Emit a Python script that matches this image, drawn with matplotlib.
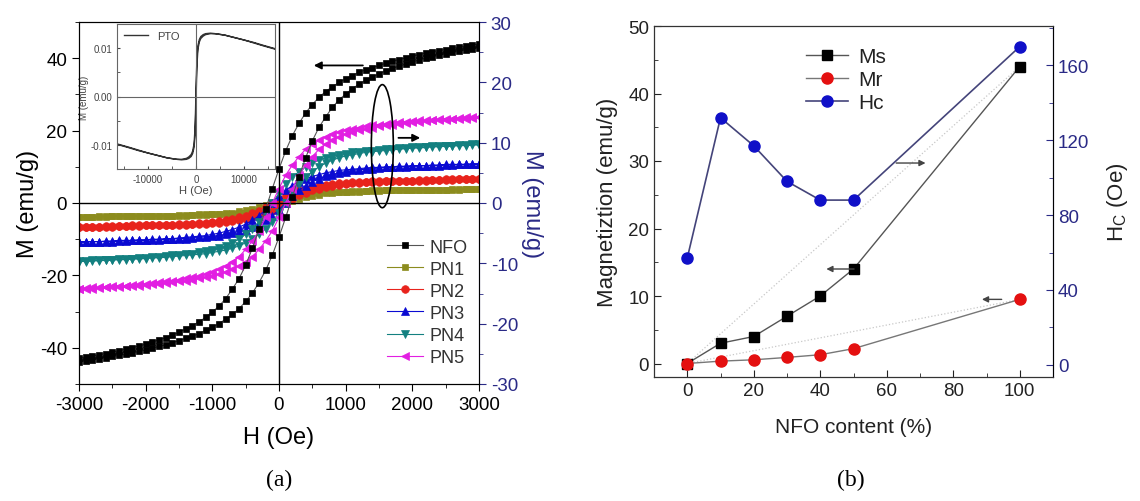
import matplotlib
matplotlib.use("Agg")
import matplotlib.pyplot as plt
from matplotlib.patches import Ellipse
from matplotlib.ticker import MultipleLocator, FormatStrFormatter

plt.rcParams["font.family"] = ["Liberation Sans", "DejaVu Sans"]
plt.rcParams["axes.unicode_minus"] = False
plt.rcParams["mathtext.fontset"] = "custom"
plt.rcParams["mathtext.rm"] = "Liberation Sans"

NAVY = "#2a2a86"

# ---- (a) M-H loops: descending branch, M at each field step (Oe) ----
H_FIELD = list(range(-3000, 3001, 100))

NFO_DESC = [-42.9, -42.6, -42.3, -41.9, -41.6, -41.2, -40.8, -40.4, -40.0, -39.5,
            -39.0, -38.4, -37.8, -37.2, -36.5, -35.7, -34.8, -33.9, -32.8, -31.6,
            -30.1, -28.5, -26.4, -23.8, -20.9, -17.2, -12.5, -7.3, -1.7, 4.0,
            9.4, 14.4, 18.6, 22.0, 24.9, 27.2, 29.2, 30.8, 32.1, 33.3,
            34.3, 35.2, 36.1, 36.8, 37.4, 38.0, 38.6, 39.2, 39.6, 40.1,
            40.6, 41.0, 41.4, 41.8, 42.1, 42.4, 42.7, 43.0, 43.3, 43.6,
            43.9]
PN1_DESC = [-2.3, -2.3, -2.3, -2.2, -2.2, -2.2, -2.2, -2.2, -2.2, -2.2,
            -2.2, -2.1, -2.1, -2.1, -2.1, -2.0, -2.0, -2.0, -1.9, -1.9,
            -1.8, -1.8, -1.7, -1.6, -1.4, -1.2, -1.0, -0.7, -0.4, 0.0,
            0.4, 0.7, 1.0, 1.2, 1.4, 1.6, 1.7, 1.8, 1.8, 1.9,
            1.9, 2.0, 2.0, 2.0, 2.1, 2.1, 2.1, 2.1, 2.2, 2.2,
            2.2, 2.2, 2.2, 2.2, 2.2, 2.2, 2.3, 2.3, 2.3, 2.3,
            2.3]
PN2_DESC = [-3.9, -3.9, -3.9, -3.9, -3.8, -3.8, -3.8, -3.8, -3.7, -3.7,
            -3.7, -3.7, -3.6, -3.6, -3.6, -3.5, -3.5, -3.4, -3.3, -3.3,
            -3.2, -3.0, -2.9, -2.7, -2.4, -2.1, -1.7, -1.3, -0.7, 0.0,
            0.7, 1.3, 1.7, 2.1, 2.4, 2.7, 2.9, 3.0, 3.2, 3.3,
            3.3, 3.4, 3.5, 3.5, 3.6, 3.6, 3.6, 3.7, 3.7, 3.7,
            3.7, 3.8, 3.8, 3.8, 3.8, 3.9, 3.9, 3.9, 3.9, 3.9,
            3.95]
PN3_DESC = [-6.4, -6.4, -6.4, -6.4, -6.3, -6.3, -6.2, -6.2, -6.2, -6.1,
            -6.1, -6.0, -6.0, -5.9, -5.9, -5.8, -5.7, -5.6, -5.5, -5.4,
            -5.2, -5.0, -4.7, -4.4, -4.0, -3.5, -2.9, -2.1, -1.1, 0.0,
            1.1, 2.1, 2.9, 3.5, 4.0, 4.4, 4.7, 5.0, 5.2, 5.4,
            5.5, 5.6, 5.7, 5.8, 5.9, 5.9, 6.0, 6.0, 6.1, 6.1,
            6.2, 6.2, 6.2, 6.3, 6.3, 6.4, 6.4, 6.4, 6.4, 6.5,
            6.5]
PN4_DESC = [-9.6, -9.6, -9.5, -9.5, -9.4, -9.4, -9.3, -9.3, -9.2, -9.1,
            -9.1, -9.0, -8.9, -8.8, -8.7, -8.6, -8.5, -8.4, -8.2, -8.0,
            -7.8, -7.5, -7.1, -6.6, -6.0, -5.2, -4.3, -3.1, -1.6, 0.0,
            1.6, 3.1, 4.3, 5.2, 6.0, 6.6, 7.1, 7.5, 7.8, 8.0,
            8.2, 8.4, 8.5, 8.6, 8.7, 8.8, 8.9, 9.0, 9.1, 9.1,
            9.2, 9.3, 9.3, 9.4, 9.4, 9.5, 9.5, 9.6, 9.6, 9.7,
            9.7]
PN5_DESC = [-14.2, -14.1, -14.0, -14.0, -13.9, -13.8, -13.7, -13.7, -13.6, -13.5,
            -13.4, -13.3, -13.1, -13.0, -12.9, -12.7, -12.5, -12.3, -12.1, -11.8,
            -11.4, -11.0, -10.4, -9.7, -8.9, -7.7, -6.3, -4.6, -2.4, 0.0,
            2.4, 4.6, 6.3, 7.7, 8.9, 9.7, 10.4, 11.0, 11.4, 11.8,
            12.1, 12.3, 12.5, 12.7, 12.9, 13.0, 13.1, 13.3, 13.4, 13.5,
            13.6, 13.7, 13.7, 13.8, 13.9, 14.0, 14.0, 14.1, 14.2, 14.2,
            14.3]

# inset: PTO loop, descending branch
PTO_H = [16500, 14000, 12000, 10000, 8000, 6000, 4000, 3000, 2000, 1500,
         1000, 700, 400, 200, 100, 0, -100, -200, -400, -700,
         -1000, -1500, -2000, -3000, -4000, -6000, -8000, -10000, -12000, -14000,
         -16500]
PTO_M = [0.0099, 0.0106, 0.0112, 0.0117, 0.0122, 0.0127, 0.0130, 0.0131, 0.0130, 0.0128,
         0.0124, 0.0118, 0.0105, 0.0080, 0.0050, 0.0012, -0.0030, -0.0065, -0.0098, -0.0113,
         -0.0120, -0.0125, -0.0128, -0.0130, -0.0130, -0.0127, -0.0122, -0.0117, -0.0111, -0.0105,
         -0.0098]

# ---- (b) vs NFO content ----
NFO_CONTENT = [0, 10, 20, 30, 40, 50, 100]
MS = [0.0, 3.0, 4.0, 7.0, 10.0, 14.0, 44.0]
MR = [0.0, 0.35, 0.55, 0.9, 1.3, 2.2, 9.5]
HC = [57, 132, 117, 98, 88, 88, 170]


def full_loop(h, m_desc):
    """Descending branch (+H -> -H) followed by the return branch,
    taken as the point reflection of the measured one."""
    h_d = h[::-1]
    m_d = m_desc[::-1]
    return h_d + [-x for x in h_d], m_d + [-y for y in m_d]


fig = plt.figure(figsize=(11.4, 5.02), dpi=100)

# ================= panel (a) =================
ax = fig.add_axes([79 / 1140, 1 - 385 / 502, 400 / 1140, 362 / 502])
axr = ax.twinx()
ax.set_zorder(axr.get_zorder() + 1)
ax.patch.set_visible(False)

series = [
    ("NFO", NFO_DESC, "s", "#000000", "#555555", ax, 5.0),
    ("PN1", PN1_DESC, "s", "#8c8c1e", "#8c8c1e", axr, 5.0),
    ("PN2", PN2_DESC, "o", "#e8231c", "#e8231c", axr, 5.5),
    ("PN3", PN3_DESC, "^", "#0a0ad2", "#0a0ad2", axr, 6.0),
    ("PN4", PN4_DESC, "v", "#138080", "#138080", axr, 6.0),
    ("PN5", PN5_DESC, "<", "#e21ee2", "#e21ee2", axr, 6.0),
]
handles = []
for name, m_desc, mk, mcol, lcol, target, ms in series:
    hh, mm = full_loop(H_FIELD, m_desc)
    ln, = target.plot(hh, mm, color=lcol, lw=0.8, marker=mk, ms=ms,
                      mfc=mcol, mec=mcol, mew=0.5, label=name)
    handles.append(ln)

ax.set_xlim(-3000, 3000)
ax.set_ylim(-50, 50)
axr.set_ylim(-30, 30)
ax.axhline(0, color="k", lw=1.0, zorder=0)
ax.axvline(0, color="k", lw=1.0, zorder=0)

ax.xaxis.set_major_locator(MultipleLocator(1000))
ax.xaxis.set_minor_locator(MultipleLocator(500))
ax.yaxis.set_major_locator(MultipleLocator(20))
ax.yaxis.set_minor_locator(MultipleLocator(10))
axr.yaxis.set_major_locator(MultipleLocator(10))
axr.yaxis.set_minor_locator(MultipleLocator(5))
ax.tick_params(which="both", direction="out", labelsize=13.5, top=False)
ax.tick_params(which="major", length=5)
ax.tick_params(which="minor", length=3)
axr.tick_params(which="both", direction="out", labelsize=13.5, colors=NAVY)
axr.tick_params(which="major", length=5)
axr.tick_params(which="minor", length=3)
axr.spines["right"].set_color(NAVY)

ax.set_xlabel("H (Oe)", fontsize=17)
ax.xaxis.set_label_coords(0.5, -0.115)
ax.set_ylabel("M (emu/g)", fontsize=17)
ax.yaxis.set_label_coords(-0.10, 0.5)
axr.set_ylabel("M (emu/g)", fontsize=17, color=NAVY, rotation=270)
axr.yaxis.set_label_coords(1.16, 0.5)

ax.add_patch(Ellipse((1550, 15.7), 330, 34, fill=False, ec="k", lw=1.2))
ax.annotate("", xy=(2160, 18), xytext=(1750, 18),
            arrowprops=dict(arrowstyle="-|>", color="k", lw=1.3, mutation_scale=11))
ax.annotate("", xy=(480, 38), xytext=(1300, 38),
            arrowprops=dict(arrowstyle="-|>", color="k", lw=1.3, mutation_scale=11))

ax.legend(handles=handles, loc="lower right", bbox_to_anchor=(0.995, 0.025),
          frameon=False, fontsize=13, handlelength=2.0, handletextpad=0.4,
          labelspacing=0.28, borderpad=0, labelcolor="#333333")

# inset
ins = fig.add_axes([117 / 1140, 1 - 170 / 502, 158 / 1140, 145 / 502])
ph, pm = full_loop(PTO_H[::-1], PTO_M[::-1])
ins.plot(ph, pm, color="#333333", lw=1.0, label="PTO")
ins.set_xlim(-16500, 16500)
ins.set_ylim(-0.015, 0.015)
ins.axhline(0, color="#666666", lw=0.8)
ins.axvline(0, color="#666666", lw=0.8)
ins.xaxis.set_major_locator(MultipleLocator(10000))
ins.xaxis.set_minor_locator(MultipleLocator(5000))
ins.yaxis.set_major_locator(MultipleLocator(0.01))
ins.yaxis.set_minor_locator(MultipleLocator(0.005))
ins.yaxis.set_major_formatter(FormatStrFormatter("%.2f"))
ins.tick_params(which="both", direction="in", labelsize=7, colors="#444444", length=2.5)
for sp in ins.spines.values():
    sp.set_color("#666666")
ins.set_xlabel("H (Oe)", fontsize=8, color="#444444", labelpad=1)
ins.set_ylabel("M (emu/g)", fontsize=7, color="#444444", labelpad=1)
ins.legend(loc="upper left", frameon=False, fontsize=8, handlelength=2.2,
           borderaxespad=0.2, labelcolor="#444444")

# ================= panel (b) =================
bx = fig.add_axes([654 / 1140, 1 - 378 / 502, 399 / 1140, 351 / 502])
bxr = bx.twinx()
bx.set_zorder(bxr.get_zorder() + 1)
bx.patch.set_visible(False)

# light closing lines between the first and last samples
bx.plot([NFO_CONTENT[0], NFO_CONTENT[-1]], [MS[0], MS[-1]], color="#c8c8c8", lw=0.9, ls=":")
bx.plot([NFO_CONTENT[0], NFO_CONTENT[-1]], [MR[0], MR[-1]], color="#c8c8c8", lw=0.9, ls=":")

h_ms, = bx.plot(NFO_CONTENT, MS, color="#555555", lw=1.0, marker="s", ms=7.5,
                mfc="k", mec="k", label="Ms")
h_mr, = bx.plot(NFO_CONTENT, MR, color="#777777", lw=1.0, marker="o", ms=8,
                mfc="#e41010", mec="#e41010", label="Mr")
h_hc, = bxr.plot(NFO_CONTENT, HC, color="#44447a", lw=1.2, marker="o", ms=8,
                 mfc="#1010c8", mec="#1010c8", label="Hc")

bx.set_xlim(-10, 110)
bx.set_ylim(-2, 50)
bxr.set_ylim(-6.5, 181)
bx.xaxis.set_major_locator(MultipleLocator(20))
bx.xaxis.set_minor_locator(MultipleLocator(10))
bx.yaxis.set_major_locator(MultipleLocator(10))
bx.yaxis.set_minor_locator(MultipleLocator(5))
bxr.yaxis.set_major_locator(MultipleLocator(40))
bxr.yaxis.set_minor_locator(MultipleLocator(20))
bx.tick_params(which="both", direction="in", labelsize=13.5, top=False, colors="#222222")
bx.tick_params(which="major", length=5)
bx.tick_params(which="minor", length=3)
bxr.tick_params(which="both", direction="in", labelsize=13.5, colors=NAVY)
bxr.tick_params(which="major", length=5)
bxr.tick_params(which="minor", length=3)
bxr.spines["right"].set_color(NAVY)
for sp in ("left", "bottom", "top"):
    bx.spines[sp].set_color("#333333")

bx.set_xlabel("NFO content (%)", fontsize=15, color="#222222")
bx.xaxis.set_label_coords(0.5, -0.115)
bx.set_ylabel("Magnetiztion (emu/g)", fontsize=16, color="#222222")
bx.yaxis.set_label_coords(-0.09, 0.5)
bxr.set_ylabel(r"H$_\mathregular{C}$ (Oe)", fontsize=16, color="#222222", rotation=90)
bxr.yaxis.set_label_coords(1.13, 0.5)

arrow_kw = dict(arrowstyle="-|>", color="#444444", lw=1.0, mutation_scale=9)
bx.annotate("", xy=(72.5, 29.7), xytext=(62, 29.7), arrowprops=arrow_kw)
bx.annotate("", xy=(41, 14), xytext=(51, 14), arrowprops=arrow_kw)
bx.annotate("", xy=(87.8, 9.5), xytext=(95.4, 9.5), arrowprops=arrow_kw)

bx.legend(handles=[h_ms, h_mr, h_hc], loc="upper left", bbox_to_anchor=(0.355, 0.97),
          frameon=False, fontsize=15, handlelength=2.0, handletextpad=0.5,
          labelspacing=0.2, borderpad=0, labelcolor="#222222")

fig.text(279 / 1140, 1 - 480 / 502, "(a)", ha="center", va="center",
         fontsize=17, family=["Liberation Serif", "DejaVu Serif"])
fig.text(851 / 1140, 1 - 480 / 502, "(b)", ha="center", va="center",
         fontsize=17, family=["Liberation Serif", "DejaVu Serif"])

fig.savefig("out.png", dpi=100)
